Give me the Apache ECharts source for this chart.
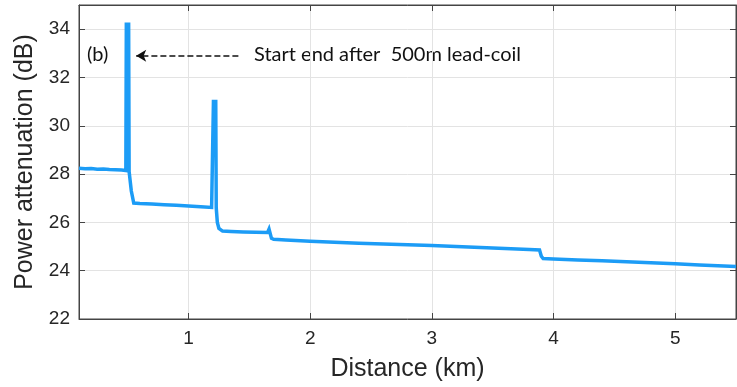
<!DOCTYPE html>
<html>
<head>
<meta charset="utf-8">
<title>Power attenuation vs distance</title>
<script src="https://cdn.jsdelivr.net/npm/echarts@6/dist/echarts.min.js"></script>
<style>
  html, body { margin: 0; padding: 0; background: #fff; }
  #chart { width: 737px; height: 387px; }
</style>
</head>
<body>
<div id="chart"></div>
<script>
// OTDR trace: distance (km) and attenuation (dB)
const distanceKm = [
  0.10, 0.15, 0.20, 0.25, 0.30, 0.35, 0.40, 0.45, 0.485,
  0.489, 0.508, 0.512, 0.53, 0.55,
  0.60, 0.70, 0.80, 0.90, 1.00, 1.10, 1.19, 1.202,
  1.205, 1.224, 1.228, 1.237, 1.25, 1.28,
  1.35, 1.45, 1.55, 1.65, 1.662, 1.672, 1.682, 1.70,
  1.80, 2.00, 2.20, 2.40, 2.60, 2.80, 3.00, 3.20, 3.40, 3.60, 3.80, 3.885,
  3.90, 3.915, 4.00, 4.20, 4.40, 4.60, 4.80, 5.00, 5.20, 5.40, 5.50
];
const attenuationDb = [
  28.24, 28.22, 28.23, 28.20, 28.21, 28.19, 28.18, 28.17, 28.15,
  34.20, 34.20, 28.10, 27.30, 26.80,
  26.78, 26.76, 26.73, 26.71, 26.68, 26.65, 26.62, 26.61,
  31.00, 31.00, 26.60, 26.00, 25.75, 25.64,
  25.62, 25.60, 25.59, 25.58, 25.72, 25.68, 25.34, 25.30,
  25.27, 25.22, 25.18, 25.14, 25.11, 25.07, 25.04, 25.00, 24.96, 24.92, 24.88, 24.86,
  24.60, 24.50, 24.48, 24.44, 24.41, 24.37, 24.33, 24.29, 24.24, 24.19, 24.17
];

const xTicks = [1, 2, 3, 4, 5];
const yTicks = [22, 24, 26, 28, 30, 32, 34];
const xRange = [0.1, 5.5];
const yRange = [22, 35];

// dashed arrow pointing at the first reflection peak
const arrowFrom = [1.41, 32.9];
const arrowTo = [0.57, 32.9];
const panelLabel = '(b)';
const noteText = 'Start end after  500m lead-coil';

const chart = echarts.init(document.getElementById('chart'), null, { renderer: 'canvas' });

const axisColor = '#444';
const labelColor = '#262626';
const gridColor = '#e3e3e3';

const option = {
  animation: false,
  backgroundColor: '#fff',
  grid: {
    left: 79,
    right: 1,
    top: 5,
    bottom: 63,
    show: true,
    borderColor: axisColor,
    borderWidth: 1,
  },
  xAxis: [
    {
      type: 'value',
      min: xRange[0],
      max: xRange[1],
      name: 'Distance (km)',
      nameLocation: 'middle',
      nameGap: 38,
      nameTextStyle: { fontFamily: 'Liberation Sans', fontSize: 25, color: labelColor },
      axisLine: { show: true, onZero: false, lineStyle: { color: axisColor, width: 1 } },
      axisTick: { show: true, inside: true, length: 6, customValues: xTicks, lineStyle: { color: axisColor } },
      axisLabel: {
        customValues: xTicks,
        margin: 10,
        fontFamily: 'Liberation Sans',
        fontSize: 19,
        color: labelColor,
      },
      splitLine: { show: true, lineStyle: { color: gridColor, width: 1 } },
    },
    {
      // mirrored top axis, ticks only
      type: 'value',
      position: 'top',
      min: xRange[0],
      max: xRange[1],
      axisLine: { show: true, onZero: false, lineStyle: { color: axisColor } },
      axisTick: { show: true, inside: true, length: 6, customValues: xTicks, lineStyle: { color: axisColor } },
      axisLabel: { show: false },
      splitLine: { show: false },
    },
  ],
  yAxis: [
    {
      type: 'value',
      min: yRange[0],
      max: yRange[1],
      name: 'Power attenuation (dB)',
      nameLocation: 'middle',
      nameGap: 33,
      nameTextStyle: { fontFamily: 'Liberation Sans', fontSize: 25, color: labelColor },
      axisLine: { show: true, onZero: false, lineStyle: { color: axisColor, width: 1 } },
      axisTick: { show: true, inside: true, length: 6, customValues: yTicks, lineStyle: { color: axisColor } },
      axisLabel: {
        customValues: yTicks,
        margin: 9,
        fontFamily: 'Liberation Sans',
        fontSize: 19,
        color: labelColor,
      },
      splitLine: { show: true, lineStyle: { color: gridColor, width: 1 } },
    },
    {
      // mirrored right axis, ticks only
      type: 'value',
      position: 'right',
      min: yRange[0],
      max: yRange[1],
      axisLine: { show: true, onZero: false, lineStyle: { color: axisColor } },
      axisTick: { show: true, inside: true, length: 6, customValues: yTicks, lineStyle: { color: axisColor } },
      axisLabel: { show: false },
      splitLine: { show: false },
    },
  ],
  series: [
    {
      name: 'Attenuation',
      type: 'line',
      xAxisIndex: 0,
      yAxisIndex: 0,
      data: distanceKm.map((d, i) => [d, attenuationDb[i]]),
      showSymbol: false,
      smooth: false,
      lineStyle: { color: '#1c9cf6', width: 3.5, join: 'miter' },
      markLine: {
        silent: true,
        symbol: ['none', 'arrow'],
        symbolSize: [9, 10],
        label: { show: false },
        lineStyle: { color: '#111', width: 1.5, type: [6, 3] },
        data: [[{ coord: arrowFrom }, { coord: arrowTo }]],
      },
    },
  ],
  graphic: [
    {
      type: 'text',
      left: 87,
      top: 45,
      style: { text: panelLabel, font: '20px Lato', fill: '#111' },
    },
    {
      type: 'text',
      left: 254,
      top: 45,
      style: { text: noteText, font: '20px Lato', fill: '#111' },
    },
  ],
};

chart.setOption(option);
window.addEventListener('resize', () => chart.resize());
</script>
</body>
</html>
